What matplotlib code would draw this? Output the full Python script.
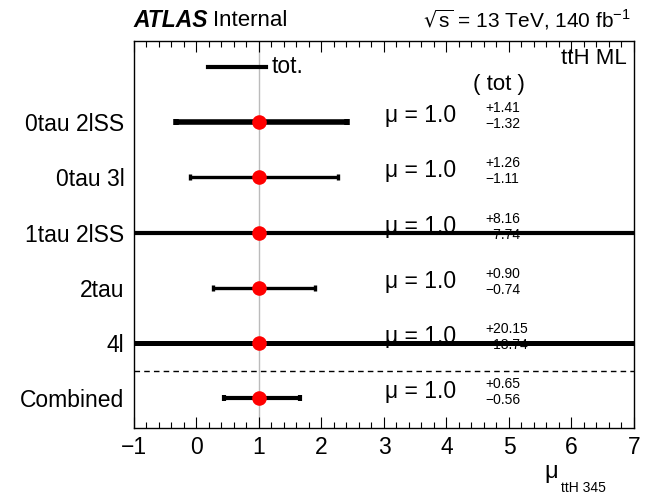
import matplotlib
matplotlib.use("Agg")
import matplotlib.pyplot as plt
from matplotlib.ticker import MultipleLocator

plt.rcParams['font.family'] = ['Liberation Sans', 'DejaVu Sans']

categories = ["0tau 2lSS", "0tau 3l", "1tau 2lSS", "2tau", "4l", "Combined"]
mu_values = [1.0, 1.0, 1.0, 1.0, 1.0, 1.0]
err_up = [1.41, 1.26, 8.16, 0.90, 20.15, 0.65]
err_down = [1.32, 1.11, 7.74, 0.74, 18.74, 0.56]
up_labels = ["+1.41", "+1.26", "+8.16", "+0.90", "+20.15", "+0.65"]
down_labels = ["\u22121.32", "\u22121.11", "\u22127.74", "\u22120.74", "\u221218.74", "\u22120.56"]
x_ticks = [-1, 0, 1, 2, 3, 4, 5, 6, 7]
x_ticklabels = ["\u22121", "0", "1", "2", "3", "4", "5", "6", "7"]

line_widths = [4.0, 2.4, 3.0, 2.4, 3.6, 3.0]

fig = plt.figure(figsize=(6.53, 4.98), dpi=100)
ax = fig.add_axes([0.2052, 0.1406, 0.7657, 0.7771])

n = len(categories)
ypos = [n - 1 - i for i in range(n)]

ax.set_xlim(-1, 7)
ax.set_ylim(-0.54, 6.47)

# vertical reference line at mu = 1
ax.axvline(1.0, color='#bbbbbb', lw=1.0, zorder=1)
# dashed separator
ax.axhline(0.5, color='black', lw=1.0, ls=(0, (4, 3)), zorder=2)

for i in range(n):
    y = ypos[i]
    ax.errorbar([mu_values[i]], [y], xerr=[[err_down[i]], [err_up[i]]], fmt='none',
                ecolor='black', elinewidth=line_widths[i], capsize=2.0,
                capthick=line_widths[i], zorder=3)
    ax.plot([mu_values[i]], [y], 'o', color='#ff0000', markersize=10.5,
            markeredgewidth=0, zorder=5)
    ax.text(3.02, y, "\u03bc = 1.0", fontsize=16.5, ha='left', va='baseline', zorder=4)
    ax.text(4.62, y + 0.18, up_labels[i], fontsize=10, ha='left', va='baseline', zorder=4)
    ax.text(4.62, y - 0.11, down_labels[i], fontsize=10, ha='left', va='baseline', zorder=4)

# legend-like "tot." line
ax.plot([0.18, 1.11], [6.0, 6.0], color='black', lw=3.0, zorder=3)
ax.text(1.2, 6.0, "tot.", fontsize=16.5, ha='left', va='center')
ax.text(4.84, 5.58, "( tot )", fontsize=16, ha='center', va='baseline')
ax.text(0.986, 0.982, "ttH ML", transform=ax.transAxes, fontsize=16,
        ha='right', va='top')

ax.set_yticks(ypos)
ax.set_yticklabels(categories, fontsize=16.5)
ax.tick_params(axis='y', length=0, pad=7)

ax.set_xticks(x_ticks)
ax.set_xticklabels(x_ticklabels, fontsize=16.5)
ax.xaxis.set_minor_locator(MultipleLocator(0.2))
ax.tick_params(axis='x', which='major', direction='in', length=8, top=True, bottom=True, width=0.8, pad=6)
ax.tick_params(axis='x', which='minor', direction='in', length=4, top=True, bottom=True, width=0.8)

for s in ax.spines.values():
    s.set_linewidth(1.0)

# header
fig.text(133 / 653, 1 - 20 / 498, "ATLAS", fontsize=16.5, fontweight='bold', fontstyle='italic',
         ha='left', va='center')
fig.text(213 / 653, 1 - 20 / 498, "Internal", fontsize=16, ha='left', va='center')
fig.text(631 / 653, 1 - 20 / 498, r"$\sqrt{\mathregular{s}}$ = 13 TeV, 140 fb$^{\mathregular{-1}}$",
         fontsize=15, ha='right', va='center')

# x axis label
fig.text(544 / 653, 1 - 478 / 498, "\u03bc", fontsize=17, ha='left', va='baseline')
fig.text(561 / 653, 1 - 492 / 498, "ttH 345", fontsize=10, ha='left', va='baseline')

fig.savefig("out.png", dpi=100)
